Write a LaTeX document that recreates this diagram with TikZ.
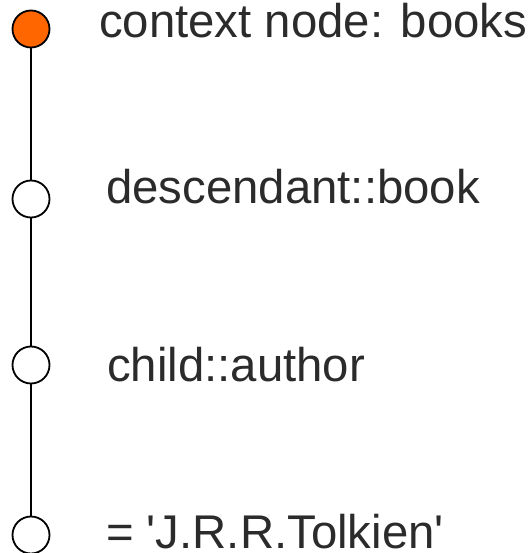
\documentclass[tikz,border=0pt]{standalone}
\usepackage{fontspec}
\setmainfont{Liberation Sans}[Ligatures=TeXOff]
\definecolor{stepfill}{HTML}{FF6600}
\definecolor{labeltext}{HTML}{2B2B2B}
\begin{document}
\begin{tikzpicture}[x=1bp,y=-1bp,
  stepdot/.style={circle, draw=black, line width=1.8bp, minimum size=37bp, inner sep=0pt, fill=white},
  stepline/.style={draw=black, line width=1.8bp},
  steplabel/.style={anchor=base west, inner sep=0pt, text=labeltext, font=\fontsize{47.5}{56}\selectfont}]
  \useasboundingbox (0,0) rectangle (531,553);
  % the location path, one dot per step
  \node[stepdot, fill=stepfill] (s0) at (31,29) {};
  \node[stepdot] (s1) at (31,199) {};
  \node[stepdot] (s2) at (31,365) {};
  \node[stepdot] (s3) at (31,535) {};
  \draw[stepline] (s0) -- (s1);
  \draw[stepline] (s1) -- (s2);
  \draw[stepline] (s2) -- (s3);
  % step descriptions
  \node[steplabel] (t0) at (99,38) {context node: books};
  \node[steplabel] (t1) at (106,204) {descendant::book};
  \node[steplabel] (t2) at (107,381) {child::author};
  \node[steplabel] (t3) at (106,548) {= 'J.R.R.Tolkien'};
\end{tikzpicture}
\end{document}
